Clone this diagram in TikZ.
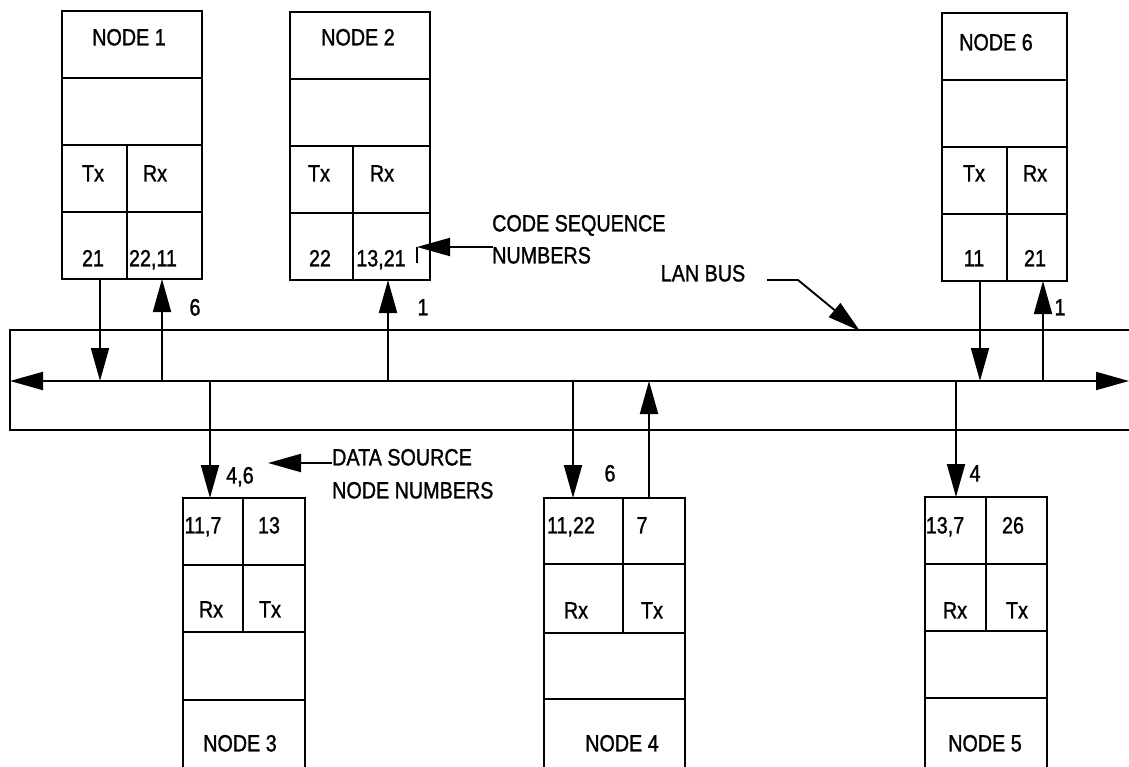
\documentclass[tikz,border=0pt]{standalone}
\usepackage{fontspec}
\setmainfont[FakeStretch=0.84,FakeBold=1.2]{Liberation Sans}
\usetikzlibrary{arrows.meta}
\tikzset{
  cellsty/.style={draw, line width=1.9pt, inner sep=0pt, outer sep=0pt, anchor=north west},
  txt/.style={inner sep=0pt, font=\fontsize{23.5}{27}\selectfont, text height=16.8pt, text depth=0pt},
  ltxt/.style={txt, anchor=west},
  wire/.style={line width=1.9pt},
  arr/.style={wire, -{Triangle[length=33pt,width=18pt]}},
  darr/.style={wire, {Triangle[length=33pt,width=18pt]}-{Triangle[length=33pt,width=18pt]}},
}
\newcommand\cellbox[5]{\node[cellsty, minimum width=#4pt, minimum height=#5pt] (#1) at (#2,#3) {};}
\begin{document}
\begin{tikzpicture}[x=1pt,y=-1pt]
\useasboundingbox (0,0) rectangle (1129,767);
\fill[white] (0,0) rectangle (1129,767);
\clip (0,0) rectangle (1129,767);

% ---------- NODE 1 ----------
\cellbox{n1h}{62}{11}{140}{67}
\cellbox{n1e}{62}{78}{140}{67}
\cellbox{n1tx}{62}{145}{65}{67}
\cellbox{n1rx}{127}{145}{75}{67}
\cellbox{n1tv}{62}{212}{65}{67}
\cellbox{n1rv}{127}{212}{75}{67}
\node[txt] (t1h) at (129,37) {NODE 1};
\node[txt] (t1tx) at (93,173) {Tx};
\node[txt] (t1rx) at (155,173) {Rx};
\node[txt] (t1tv) at (93,258) {21};
\node[txt] (t1rv) at (153,258) {22,11};

% ---------- NODE 2 ----------
\cellbox{n2h}{290}{12}{140}{67}
\cellbox{n2e}{290}{79}{140}{67}
\cellbox{n2tx}{290}{146}{63}{67}
\cellbox{n2rx}{353}{146}{77}{67}
\cellbox{n2tv}{290}{213}{63}{67}
\cellbox{n2rv}{353}{213}{77}{67}
\node[txt] (t2h) at (358,37) {NODE 2};
\node[txt] (t2tx) at (319,173) {Tx};
\node[txt] (t2rx) at (382,173) {Rx};
\node[txt] (t2tv) at (320,258) {22};
\node[txt] (t2rv) at (381,258) {13,21};
\coordinate (tickt) at (417,247);
\coordinate (tickb) at (417,263);
\draw[wire] (tickt) -- (tickb);

% ---------- NODE 6 ----------
\cellbox{n6h}{942}{13}{125}{67}
\cellbox{n6e}{942}{80}{125}{67}
\cellbox{n6tx}{942}{147}{65}{67}
\cellbox{n6rx}{1007}{147}{60}{67}
\cellbox{n6tv}{942}{214}{65}{67}
\cellbox{n6rv}{1007}{214}{60}{67}
\node[txt] (t6h) at (996,42) {NODE 6};
\node[txt] (t6tx) at (974,173) {Tx};
\node[txt] (t6rx) at (1035,173) {Rx};
\node[txt] (t6tv) at (974,258) {11};
\node[txt] (t6rv) at (1035,258) {21};

% ---------- NODE 3 ----------
\cellbox{n3rv}{183}{498}{60}{67}
\cellbox{n3tv}{243}{498}{62}{67}
\cellbox{n3rx}{183}{565}{60}{67}
\cellbox{n3tx}{243}{565}{62}{67}
\cellbox{n3e}{183}{632}{122}{68}
\cellbox{n3h}{183}{700}{122}{75}
\node[txt] (t3rv) at (203,525) {11,7};
\node[txt] (t3tv) at (269,525) {13};
\node[txt] (t3rx) at (211,609) {Rx};
\node[txt] (t3tx) at (270,609) {Tx};
\node[txt] (t3h) at (240,743) {NODE 3};

% ---------- NODE 4 ----------
\cellbox{n4rv}{544}{498}{79}{66}
\cellbox{n4tv}{623}{498}{62}{66}
\cellbox{n4rx}{544}{564}{79}{69}
\cellbox{n4tx}{623}{564}{62}{69}
\cellbox{n4e}{544}{633}{141}{66}
\cellbox{n4h}{544}{699}{141}{75}
\node[txt] (t4rv) at (571,525) {11,22};
\node[txt] (t4tv) at (642,525) {7};
\node[txt] (t4rx) at (576,610) {Rx};
\node[txt] (t4tx) at (652,610) {Tx};
\node[txt] (t4h) at (622,743) {NODE 4};

% ---------- NODE 5 ----------
\cellbox{n5rv}{925}{497}{61}{67}
\cellbox{n5tv}{986}{497}{61}{67}
\cellbox{n5rx}{925}{564}{61}{67}
\cellbox{n5tx}{986}{564}{61}{67}
\cellbox{n5e}{925}{631}{122}{67}
\cellbox{n5h}{925}{698}{122}{75}
\node[txt] (t5rv) at (945,525) {13,7};
\node[txt] (t5tv) at (1013,525) {26};
\node[txt] (t5rx) at (955,610) {Rx};
\node[txt] (t5tx) at (1017,610) {Tx};
\node[txt] (t5h) at (985,743) {NODE 5};

% ---------- LAN BUS ----------
\coordinate (busTL) at (10,330);
\coordinate (busBL) at (10,430);
\coordinate (busTR) at (1140,330);
\coordinate (busBR) at (1140,430);
\draw[wire] (busTR) -- (busTL) -- (busBL) -- (busBR);
\coordinate (bl) at (10,381);
\coordinate (br) at (1129,381);
\draw[darr] (bl) -- (br);

% bus tap points
\coordinate (b1t) at (100,381);
\coordinate (b1r) at (162,381);
\coordinate (b2r) at (388,381);
\coordinate (b6t) at (980,381);
\coordinate (b6r) at (1043,381);
\coordinate (b3) at (210,381);
\coordinate (b4r) at (573,381);
\coordinate (b4t) at (649,381);
\coordinate (b5) at (956,381);
% box ports
\coordinate (p1t) at (100,279);
\coordinate (p1r) at (162,279);
\coordinate (p2r) at (388,280);
\coordinate (p6t) at (980,281);
\coordinate (p6r) at (1043,281);
\coordinate (p3) at (210,498);
\coordinate (p4r) at (573,498);
\coordinate (p4t) at (649,498);
\coordinate (p5) at (956,497);

\draw[arr] (p1t) -- (b1t);
\draw[arr] (b1r) -- (p1r);
\draw[arr] (b2r) -- (p2r);
\draw[arr] (p6t) -- (b6t);
\draw[arr] (b6r) -- (p6r);
\draw[arr] (b3) -- (p3);
\draw[arr] (b4r) -- (p4r);
\draw[arr] (p4t) -- (b4t);
\draw[arr] (b5) -- (p5);

% arrow labels
\node[txt] (l1) at (195,307) {6};
\node[txt] (l2) at (423,307) {1};
\node[txt] (l6) at (1060,307) {1};
\node[txt] (l3) at (240,475) {4,6};
\node[txt] (l4) at (610,473) {6};
\node[txt] (l5) at (975,473) {4};

% annotations
\node[ltxt] (cs1) at (492,223) {CODE SEQUENCE};
\node[ltxt] (cs2) at (492,255) {NUMBERS};
\coordinate (csa) at (493,247);
\draw[arr] (csa) -- (tickt);

\node[txt] (lan) at (703,273) {LAN BUS};
\coordinate (lana) at (767,280);
\coordinate (lanb) at (798,280);
\coordinate (lanc) at (860,331);
\draw[arr] (lana) -- (lanb) -- (lanc);

\node[ltxt] (ds1) at (332,457) {DATA SOURCE};
\node[ltxt] (ds2) at (332,490) {NODE NUMBERS};
\coordinate (dsa) at (332,463);
\coordinate (dsb) at (268,463);
\draw[arr] (dsa) -- (dsb);
\end{tikzpicture}
\end{document}
